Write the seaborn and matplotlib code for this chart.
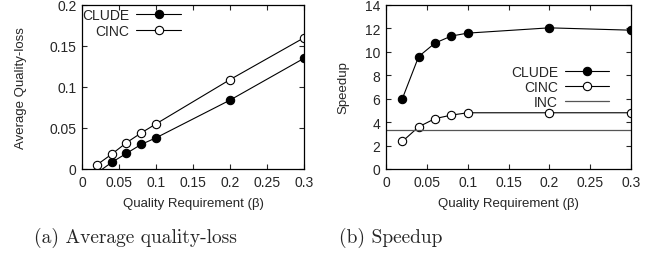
import seaborn as sns
import pandas as pd
import matplotlib.pyplot as plt
from matplotlib.ticker import FuncFormatter

# data
beta = [0.02, 0.04, 0.06, 0.08, 0.1, 0.2, 0.3]
loss_clude = [-0.005, 0.008, 0.019, 0.030, 0.038, 0.084, 0.135]
loss_cinc = [0.005, 0.018, 0.032, 0.044, 0.055, 0.109, 0.160]
speed_clude = [6.0, 9.6, 10.75, 11.35, 11.6, 12.05, 11.85]
speed_cinc = [2.35, 3.6, 4.3, 4.6, 4.8, 4.8, 4.8]
speed_inc = 3.3

sns.set_style("ticks")
plt.rcParams["font.family"] = ["Liberation Sans", "DejaVu Sans"]

loss_df = pd.DataFrame({"beta": beta * 2,
                        "val": loss_clude + loss_cinc,
                        "method": ["CLUDE"] * 7 + ["CINC"] * 7})
speed_df = pd.DataFrame({"beta": beta * 2,
                         "val": speed_clude + speed_cinc,
                         "method": ["CLUDE"] * 7 + ["CINC"] * 7})

fig = plt.figure(figsize=(6.54, 2.55), dpi=100)
W, H = 654, 255
ax1 = fig.add_axes([82 / W, 1 - 170 / H, (304 - 82) / W, (170 - 6) / H])
ax2 = fig.add_axes([386 / W, 1 - 170 / H, (631 - 386) / W, (170 - 6) / H])

styles = {"CLUDE": "black", "CINC": "white"}


def draw(ax, df):
    for name, fc in styles.items():
        sub = df[df["method"] == name]
        sns.lineplot(data=sub, x="beta", y="val", ax=ax, color="black",
                     lw=0.8, marker="o", markersize=6, markerfacecolor=fc,
                     markeredgecolor="black", markeredgewidth=0.8,
                     label=name, clip_on=True)


draw(ax1, loss_df)
draw(ax2, speed_df)
ax2.axhline(speed_inc, color="#555555", lw=0.9, label="INC")

fmt = FuncFormatter(lambda v, _: f"{v:g}")
for ax in (ax1, ax2):
    ax.set_xlim(0, 0.3)
    ax.set_xticks([0, 0.05, 0.1, 0.15, 0.2, 0.25, 0.3])
    ax.xaxis.set_major_formatter(fmt)
    ax.yaxis.set_major_formatter(fmt)
    ax.tick_params(direction="in", top=True, right=True, length=3.5,
                   width=0.8, labelsize=10, pad=4)
    for s in ax.spines.values():
        s.set_linewidth(0.9)
        s.set_color("black")
    ax.set_xlabel("Quality Requirement (β)", fontsize=9.5, labelpad=6)

ax1.set_ylim(0, 0.2)
ax1.set_yticks([0, 0.05, 0.1, 0.15, 0.2])
ax1.set_ylabel("Average Quality-loss", fontsize=9.5, labelpad=16)
ax2.set_ylim(0, 14)
ax2.set_yticks(range(0, 15, 2))
ax2.set_ylabel("Speedup", fontsize=9.5, labelpad=11)

ax1.legend(loc="upper left", bbox_to_anchor=(-0.042, 1.04), frameon=False,
           markerfirst=False, fontsize=10, handlelength=3.2,
           handletextpad=0.5, labelspacing=0.1, borderaxespad=0.3)
ax2.legend(loc="center right", bbox_to_anchor=(0.963, 0.5), frameon=False,
           markerfirst=False, fontsize=10, handlelength=3.2,
           handletextpad=0.5, labelspacing=0.05)

fig.text(0.207, 1 - 243 / H, "(a) Average quality-loss", family="cmr10",
         fontsize=14, ha="center", va="baseline")
fig.text(0.598, 1 - 243 / H, "(b) Speedup", family="cmr10",
         fontsize=14, ha="center", va="baseline")

plt.savefig("out.png", dpi=100)
